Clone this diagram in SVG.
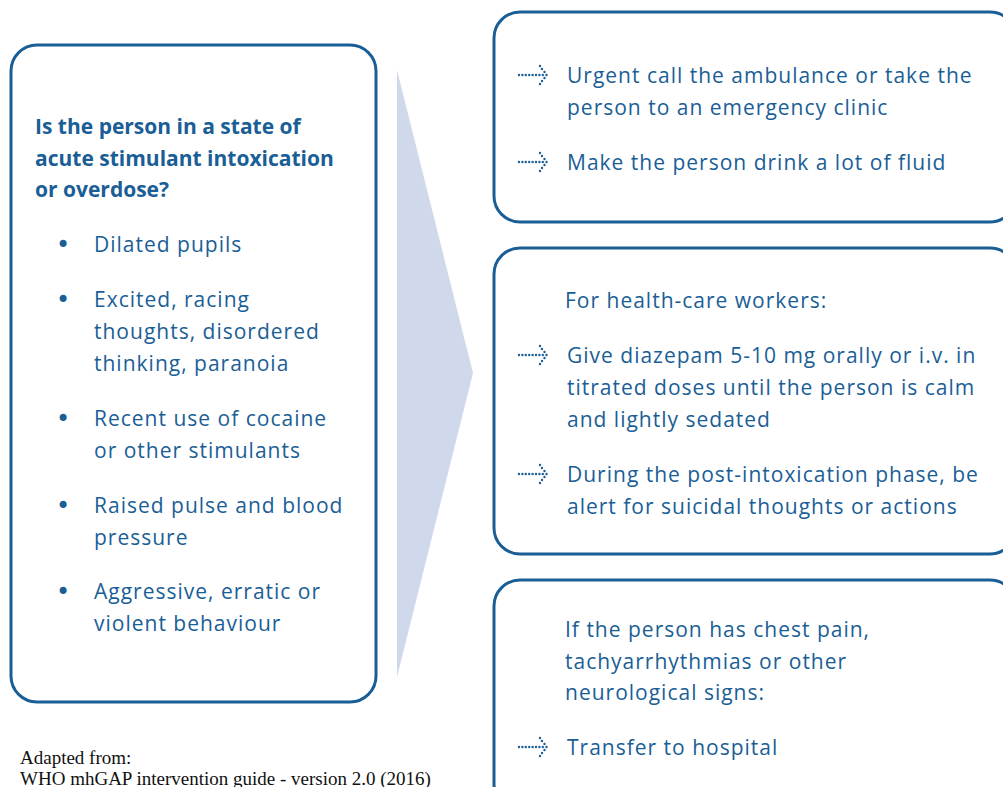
<svg xmlns="http://www.w3.org/2000/svg" width="1003" height="787" viewBox="0 0 1003 787">
<style>
.box{fill:#fff;stroke:#1a5e96;stroke-width:3}
.t{font-family:"Open Sans","Noto Sans",sans-serif;font-size:21px;fill:#1a5e96;letter-spacing:1px}
.b{font-weight:bold;letter-spacing:0}
.bul{font-family:"DejaVu Sans",sans-serif;font-size:24px;fill:#1a5e96}
.src{font-family:"Liberation Serif",serif;font-size:19px;fill:#111}
.dot{fill:#1a5e96}
</style>
<defs>
<g id="arr">
<circle class="dot" cx="0" cy="0" r="1.2"/><circle class="dot" cx="3.4" cy="0" r="1.2"/><circle class="dot" cx="6.8" cy="0" r="1.2"/><circle class="dot" cx="10.2" cy="0" r="1.2"/><circle class="dot" cx="13.6" cy="0" r="1.2"/><circle class="dot" cx="17" cy="0" r="1.2"/><circle class="dot" cx="20.4" cy="0" r="1.2"/><circle class="dot" cx="23.8" cy="0" r="1.2"/>
<circle class="dot" cx="21" cy="-9" r="1.2"/><circle class="dot" cx="23" cy="-6" r="1.2"/><circle class="dot" cx="25.5" cy="-3" r="1.2"/><circle class="dot" cx="27.5" cy="0" r="1.2"/><circle class="dot" cx="25.5" cy="3" r="1.2"/><circle class="dot" cx="23" cy="6" r="1.2"/><circle class="dot" cx="21" cy="9" r="1.2"/>
</g>
</defs>
<rect width="1003" height="787" fill="#fff"/>
<g id="connectors">
<polygon points="397,70 473,373 397,677" fill="#d0d8eb"/>
</g>
<g id="node-question">
<rect class="box" x="11" y="45" width="365" height="657" rx="26"/>
<text class="t b" x="35" y="134">Is the person in a state of</text>
<text class="t b" x="35" y="166">acute stimulant intoxication</text>
<text class="t b" x="35" y="197">or overdose?</text>
<g class="bul">
<text x="56" y="253">•</text>
<text x="56" y="308">•</text>
<text x="56" y="427">•</text>
<text x="56" y="514">•</text>
<text x="56" y="600">•</text>
</g>
<g class="t">
<text x="94" y="252">Dilated pupils</text>
<text x="94" y="307">Excited, racing</text>
<text x="94" y="339">thoughts, disordered</text>
<text x="94" y="371">thinking, paranoia</text>
<text x="94" y="426">Recent use of cocaine</text>
<text x="94" y="458">or other stimulants</text>
<text x="94" y="513">Raised pulse and blood</text>
<text x="94" y="545">pressure</text>
<text x="94" y="599">Aggressive, erratic or</text>
<text x="94" y="631">violent behaviour</text>
</g>
</g>
<g id="node-urgent">
<rect class="box" x="494" y="12" width="522" height="210" rx="26"/>
<use href="#arr" x="519" y="75"/>
<text class="t" x="567" y="83">Urgent call the ambulance or take the</text>
<text class="t" x="567" y="115">person to an emergency clinic</text>
<use href="#arr" x="519" y="162"/>
<text class="t" x="567" y="170">Make the person drink a lot of fluid</text>
</g>
<g id="node-health">
<rect class="box" x="494" y="248" width="522" height="306" rx="26"/>
<text class="t" x="565" y="308">For health-care workers:</text>
<use href="#arr" x="519" y="355"/>
<text class="t" x="567" y="363">Give diazepam 5-10 mg orally or i.v. in</text>
<text class="t" x="567" y="395">titrated doses until the person is calm</text>
<text class="t" x="567" y="427">and lightly sedated</text>
<use href="#arr" x="519" y="474"/>
<text class="t" x="567" y="482">During the post-intoxication phase, be</text>
<text class="t" x="567" y="514">alert for suicidal thoughts or actions</text>
</g>
<g id="node-chest">
<rect class="box" x="494" y="580" width="522" height="230" rx="26"/>
<text class="t" x="565" y="637">If the person has chest pain,</text>
<text class="t" x="565" y="669">tachyarrhythmias or other</text>
<text class="t" x="565" y="700">neurological signs:</text>
<use href="#arr" x="519" y="747"/>
<text class="t" x="567" y="755">Transfer to hospital</text>
</g>
<g id="source">
<text class="src" x="20" y="764">Adapted from:</text>
<text class="src" x="20" y="785">WHO mhGAP intervention guide - version 2.0 (2016)</text>
</g>
</svg>
